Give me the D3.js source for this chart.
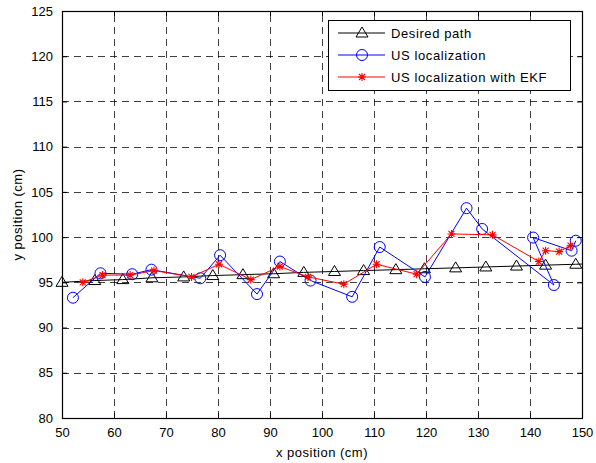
<!DOCTYPE html>
<html>
<head>
<meta charset="utf-8">
<script src="https://cdn.jsdelivr.net/npm/d3@7"></script>
<style>
  body { margin: 0; background: #fff; }
  text { font-family: "Liberation Sans", Arial, sans-serif; }
</style>
</head>
<body>
<script>
// Desired path (black, triangles)
var desiredX = [50, 56.3, 61.7, 67.3, 73.4, 79.0, 84.8, 90.7, 96.5, 102.4, 108.0, 114.2, 119.7, 125.7, 131.5, 137.4, 143.0, 148.8];
var desiredY = [95.0, 95.2, 95.3, 95.5, 95.6, 95.75, 95.85, 95.95, 96.1, 96.2, 96.3, 96.4, 96.5, 96.6, 96.7, 96.8, 96.9, 97.0];
// the path line runs on to the right edge
var desiredEnd = [150, 97.02];

// US localization (blue, circles)
var usX = [52.1, 57.4, 63.5, 67.2, 76.6, 80.4, 87.5, 91.9, 97.8, 105.8, 111.1, 119.8, 127.8, 130.8, 144.6, 140.6, 148.0, 148.8];
var usY = [93.3, 96.0, 95.9, 96.4, 95.45, 98.0, 93.7, 97.3, 95.2, 93.4, 98.9, 95.6, 103.2, 100.9, 94.7, 99.95, 98.5, 99.6];

// US localization with EKF (red, asterisks)
var ekfX = [54.0, 57.8, 63.1, 67.7, 74.9, 80.2, 86.3, 91.9, 97.3, 104.2, 110.5, 118.2, 124.9, 132.8, 141.7, 143.0, 145.6, 147.8];
var ekfY = [95.0, 95.8, 95.8, 96.3, 95.6, 97.0, 95.3, 96.75, 95.6, 94.8, 97.0, 95.9, 100.35, 100.25, 97.3, 98.5, 98.4, 99.05];

var xTicks = [50, 60, 70, 80, 90, 100, 110, 120, 130, 140, 150];
var yTicks = [80, 85, 90, 95, 100, 105, 110, 115, 120, 125];
var legendLabels = ['Desired path', 'US localization', 'US localization with EKF'];

var W = 596, H = 463;
var m = {left: 62, right: 14, top: 11, bottom: 45};
var pw = W - m.left - m.right, ph = H - m.top - m.bottom;

var svg = d3.select('body').append('svg')
  .attr('width', W)
  .attr('height', H);

var x = d3.scaleLinear().domain([50, 150]).range([m.left, m.left + pw]);
var y = d3.scaleLinear().domain([80, 125]).range([m.top + ph, m.top]);

// dashed grid
var grid = svg.append('g')
  .attr('stroke', '#000')
  .attr('stroke-width', 1)
  .attr('stroke-dasharray', '7,5')
  .attr('stroke-opacity', 0.75);
grid.selectAll('line.vx')
  .data(xTicks.slice(1, -1))
  .enter().append('line')
  .attr('x1', function(d) { return Math.round(x(d)) + 0.5; })
  .attr('x2', function(d) { return Math.round(x(d)) + 0.5; })
  .attr('y1', y(80)).attr('y2', y(125));
grid.selectAll('line.hy')
  .data(yTicks.slice(1, -1))
  .enter().append('line')
  .attr('y1', function(d) { return Math.round(y(d)) + 0.5; })
  .attr('y2', function(d) { return Math.round(y(d)) + 0.5; })
  .attr('x1', x(50)).attr('x2', x(150));

// axes with inward ticks on all four sides
function styleAxis(g) {
  g.select('.domain').remove();
  g.selectAll('line').attr('stroke', '#000');
  g.selectAll('text')
    .attr('font-size', '13px')
    .attr('fill', '#000');
}
svg.append('g')
  .attr('transform', 'translate(0,' + (m.top + ph) + ')')
  .call(d3.axisBottom(x).tickValues(xTicks).tickSize(-5).tickPadding(10))
  .call(styleAxis);
svg.append('g')
  .attr('transform', 'translate(0,' + m.top + ')')
  .call(d3.axisTop(x).tickValues(xTicks).tickSize(-5).tickFormat(''))
  .call(styleAxis);
svg.append('g')
  .attr('transform', 'translate(' + m.left + ',0)')
  .call(d3.axisLeft(y).tickValues(yTicks).tickSize(-5).tickPadding(9))
  .call(styleAxis);
svg.append('g')
  .attr('transform', 'translate(' + (m.left + pw) + ',0)')
  .call(d3.axisRight(y).tickValues(yTicks).tickSize(-5).tickFormat(''))
  .call(styleAxis);

// box
svg.append('rect')
  .attr('x', m.left + 0.5).attr('y', m.top + 0.5)
  .attr('width', pw).attr('height', ph)
  .attr('fill', 'none')
  .attr('stroke', '#000')
  .attr('stroke-width', 1.2);

// axis labels
svg.append('text')
  .attr('x', m.left + pw / 2)
  .attr('y', 457)
  .attr('text-anchor', 'middle')
  .attr('font-size', '13px')
  .attr('letter-spacing', '0.5px')
  .text('x position (cm)');
svg.append('text')
  .attr('transform', 'translate(22,' + (m.top + ph / 2) + ') rotate(-90)')
  .attr('text-anchor', 'middle')
  .attr('font-size', '13px')
  .attr('letter-spacing', '0.5px')
  .text('y position (cm)');

// markers
var triPath = 'M0,-6L6,4L-6,4Z';
var starPath = 'M-4,0L4,0M0,-4L0,4M-3,-3L3,3M-3,3L3,-3';

function drawTri(g, px, py) {
  g.append('path').attr('d', triPath)
    .attr('transform', 'translate(' + px + ',' + py + ')')
    .attr('fill', 'none').attr('stroke', '#000').attr('stroke-width', 1);
}
function drawCircle(g, px, py) {
  g.append('circle').attr('cx', px).attr('cy', py).attr('r', 5.5)
    .attr('fill', 'none').attr('stroke', '#00f').attr('stroke-width', 1);
}
function drawStar(g, px, py) {
  g.append('path').attr('d', starPath)
    .attr('transform', 'translate(' + px + ',' + py + ')')
    .attr('fill', 'none').attr('stroke', '#f00').attr('stroke-width', 1.1);
}

var line = d3.line()
  .x(function(d) { return x(d[0]); })
  .y(function(d) { return y(d[1]); });

var plot = svg.append('g');

// desired path
var desiredPts = d3.zip(desiredX, desiredY);
plot.append('path')
  .attr('d', line(desiredPts.concat([desiredEnd])))
  .attr('fill', 'none').attr('stroke', '#000').attr('stroke-width', 1);
desiredPts.forEach(function(d) { drawTri(plot, x(d[0]), y(d[1])); });

// US localization
var usPts = d3.zip(usX, usY);
plot.append('path')
  .attr('d', line(usPts))
  .attr('fill', 'none').attr('stroke', '#00f').attr('stroke-width', 1);
usPts.forEach(function(d) { drawCircle(plot, x(d[0]), y(d[1])); });

// EKF
var ekfPts = d3.zip(ekfX, ekfY);
plot.append('path')
  .attr('d', line(ekfPts))
  .attr('fill', 'none').attr('stroke', '#f00').attr('stroke-width', 1);
ekfPts.forEach(function(d) { drawStar(plot, x(d[0]), y(d[1])); });

// legend
var lg = svg.append('g').attr('transform', 'translate(328,20)');
lg.append('rect')
  .attr('x', 0.5).attr('y', 0.5)
  .attr('width', 242).attr('height', 70)
  .attr('fill', '#fff').attr('stroke', '#000').attr('stroke-width', 1);
var colors = ['#000', '#00f', '#f00'];
var drawers = [drawTri, drawCircle, drawStar];
legendLabels.forEach(function(label, i) {
  var ly = 13 + i * 22;
  lg.append('line')
    .attr('x1', 10).attr('x2', 57)
    .attr('y1', ly).attr('y2', ly)
    .attr('stroke', colors[i]).attr('stroke-width', 1);
  drawers[i](lg, 34, ly);
  lg.append('text')
    .attr('x', 63).attr('y', ly + 5)
    .attr('font-size', '13px')
    .attr('letter-spacing', '0.6px')
    .text(label);
});
</script>
</body>
</html>
